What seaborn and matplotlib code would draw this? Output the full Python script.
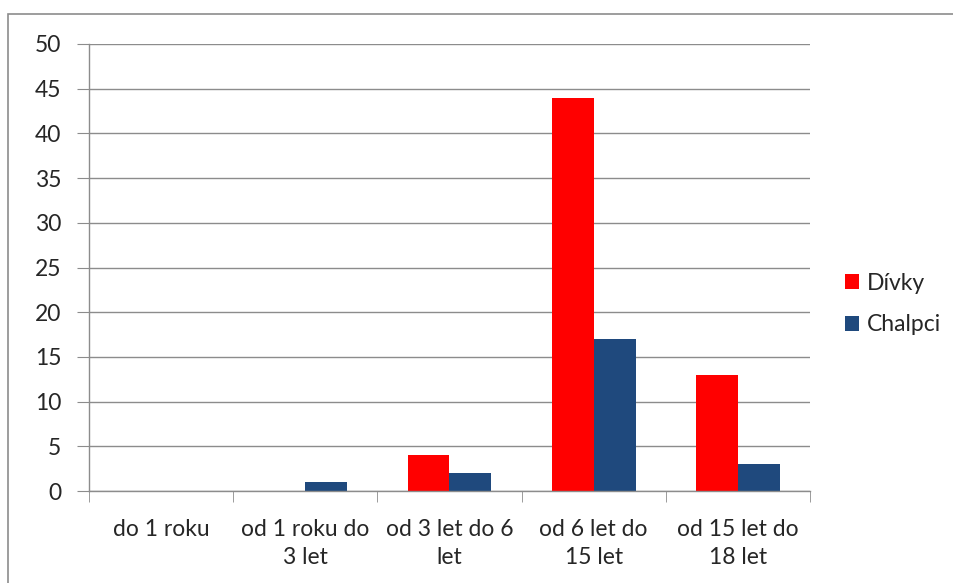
import matplotlib
matplotlib.use("Agg")
import matplotlib.pyplot as plt
import seaborn as sns
import pandas as pd
from matplotlib.patches import Rectangle

categories = ["do 1 roku", "od 1 roku do\n3 let", "od 3 let do 6\nlet", "od 6 let do\n15 let", "od 15 let do\n18 let"]
divky = [0, 0, 4, 44, 13]
chalpci = [0, 1, 2, 17, 3]
series = ["Dívky", "Chalpci"]
colors = ["#ff0000", "#1f497d"]

df = pd.DataFrame({
    "kategorie": categories * 2,
    "hodnota": divky + chalpci,
    "pohlavi": [series[0]] * len(categories) + [series[1]] * len(categories),
})

sns.set_style("white")
plt.rcParams["font.family"] = ["Lato", "DejaVu Sans"]
fs = 16.5

fig = plt.figure(figsize=(9.54, 5.83), dpi=100)
ax = fig.add_axes([89 / 954, 1 - 491 / 583, (810 - 89) / 954, (491 - 44) / 583])

sns.barplot(data=df, x="kategorie", y="hodnota", hue="pohlavi", palette=colors,
            width=0.58, saturation=1, ax=ax, legend=True, edgecolor="none")

ax.set_ylim(0, 50)
ax.set_xlim(-0.5, len(categories) - 0.5)
ax.set_yticks(range(0, 51, 5))
ax.yaxis.grid(True, color="#8c8c8c", linewidth=1)
ax.set_axisbelow(True)
ax.set_xlabel("")
ax.set_ylabel("")

for side in ["top", "right"]:
    ax.spines[side].set_visible(False)
for side in ["left", "bottom"]:
    ax.spines[side].set_color("#8c8c8c")
    ax.spines[side].set_linewidth(1)

ax.tick_params(axis="y", length=9, color="#8c8c8c", labelsize=fs, pad=11, left=True)
ax.set_xticks([i - 0.5 for i in range(len(categories) + 1)], minor=True)
ax.set_xticks(range(len(categories)))
ax.set_xticklabels(categories, fontsize=fs, linespacing=1.45)
ax.tick_params(axis="x", which="major", length=0, pad=20)
ax.tick_params(axis="x", which="minor", length=8, color="#8c8c8c", bottom=True)

ax.legend(loc="center left", bbox_to_anchor=(1.02, 0.418), frameon=False, fontsize=fs,
          handlelength=0.6, handleheight=0.6, handletextpad=0.35, labelspacing=0.9)

fig.patches.append(Rectangle((8 / 954, -0.01), 1.0, 1 - 14 / 583 + 0.01,
                             transform=fig.transFigure, fill=False,
                             edgecolor="#8c8c8c", linewidth=1.2))

fig.savefig("out.png", dpi=100)
